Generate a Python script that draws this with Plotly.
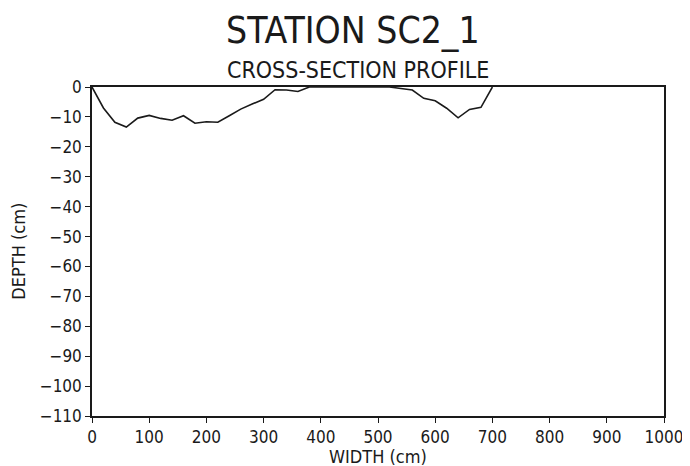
import plotly.graph_objects as go

# Profile data
width_cm = [0, 20, 40, 60, 80, 100, 120, 140, 160, 180, 200, 220, 240, 260, 280, 300,
            320, 340, 360, 380, 400, 420, 440, 460, 480, 500, 520, 540, 560, 580,
            600, 620, 640, 660, 680, 700]
depth_cm = [0, -7.0, -11.8, -13.4, -10.4, -9.5, -10.5, -11.1, -9.6, -12.1, -11.6, -11.8,
            -9.6, -7.4, -5.7, -4.1, -0.9, -1.0, -1.5, 0, 0, 0, 0, 0, 0, 0, 0, -0.5,
            -1.0, -3.8, -4.6, -7.1, -10.3, -7.5, -6.8, 0]

x_ticks = list(range(0, 1001, 100))
y_ticks = list(range(-110, 1, 10))

title_text = "STATION SC2_1"
subtitle_text = "CROSS-SECTION PROFILE"
x_title = "WIDTH (cm)"
y_title = "DEPTH (cm)"

FONT = "DejaVu Sans Condensed, Liberation Sans Narrow, sans-serif"
INK = "#1a1a1a"

fig = go.Figure()
fig.add_trace(go.Scatter(x=width_cm, y=depth_cm, mode="lines",
                         line=dict(color=INK, width=1.6), showlegend=False,
                         hoverinfo="x+y"))

axis_common = dict(showgrid=False, zeroline=False, showline=True, linecolor=INK,
                   linewidth=1.5, ticks="outside", ticklen=5, tickwidth=1.3,
                   tickcolor=INK, mirror=True, automargin=False,
                   tickfont=dict(family=FONT, size=17, color=INK))

fig.update_xaxes(range=[0, 1000], tickvals=x_ticks, **axis_common)
fig.update_yaxes(range=[-110, 0], tickvals=y_ticks, **axis_common)

# The page body has an 8px default margin, so the figure is 8px smaller
# and its left/top margins 8px smaller, to land the plot area where the
# reference has it.
fig.update_layout(
    template="none",
    width=682, height=458,
    margin=dict(l=84, r=26, t=79, b=50, autoexpand=False),
    paper_bgcolor="white", plot_bgcolor="white",
    font=dict(family=FONT, color=INK),
    annotations=[
        dict(text=title_text, xref="paper", yref="paper", x=0.456, y=1.173,
             xanchor="center", yanchor="middle", showarrow=False,
             font=dict(family=FONT, size=37, color=INK)),
        dict(text=subtitle_text, xref="paper", yref="paper", x=0.465, y=1.052,
             xanchor="center", yanchor="middle", showarrow=False,
             font=dict(family=FONT, size=23, color=INK)),
        dict(text=x_title, xref="paper", yref="paper", x=0.5, y=-0.122,
             xanchor="center", yanchor="middle", showarrow=False,
             font=dict(family=FONT, size=18, color=INK)),
        dict(text=y_title, xref="paper", yref="paper", x=-0.129, y=0.5,
             xanchor="center", yanchor="middle", showarrow=False, textangle=-90,
             font=dict(family=FONT, size=18, color=INK)),
    ],
)

fig.write_html("out.html")
